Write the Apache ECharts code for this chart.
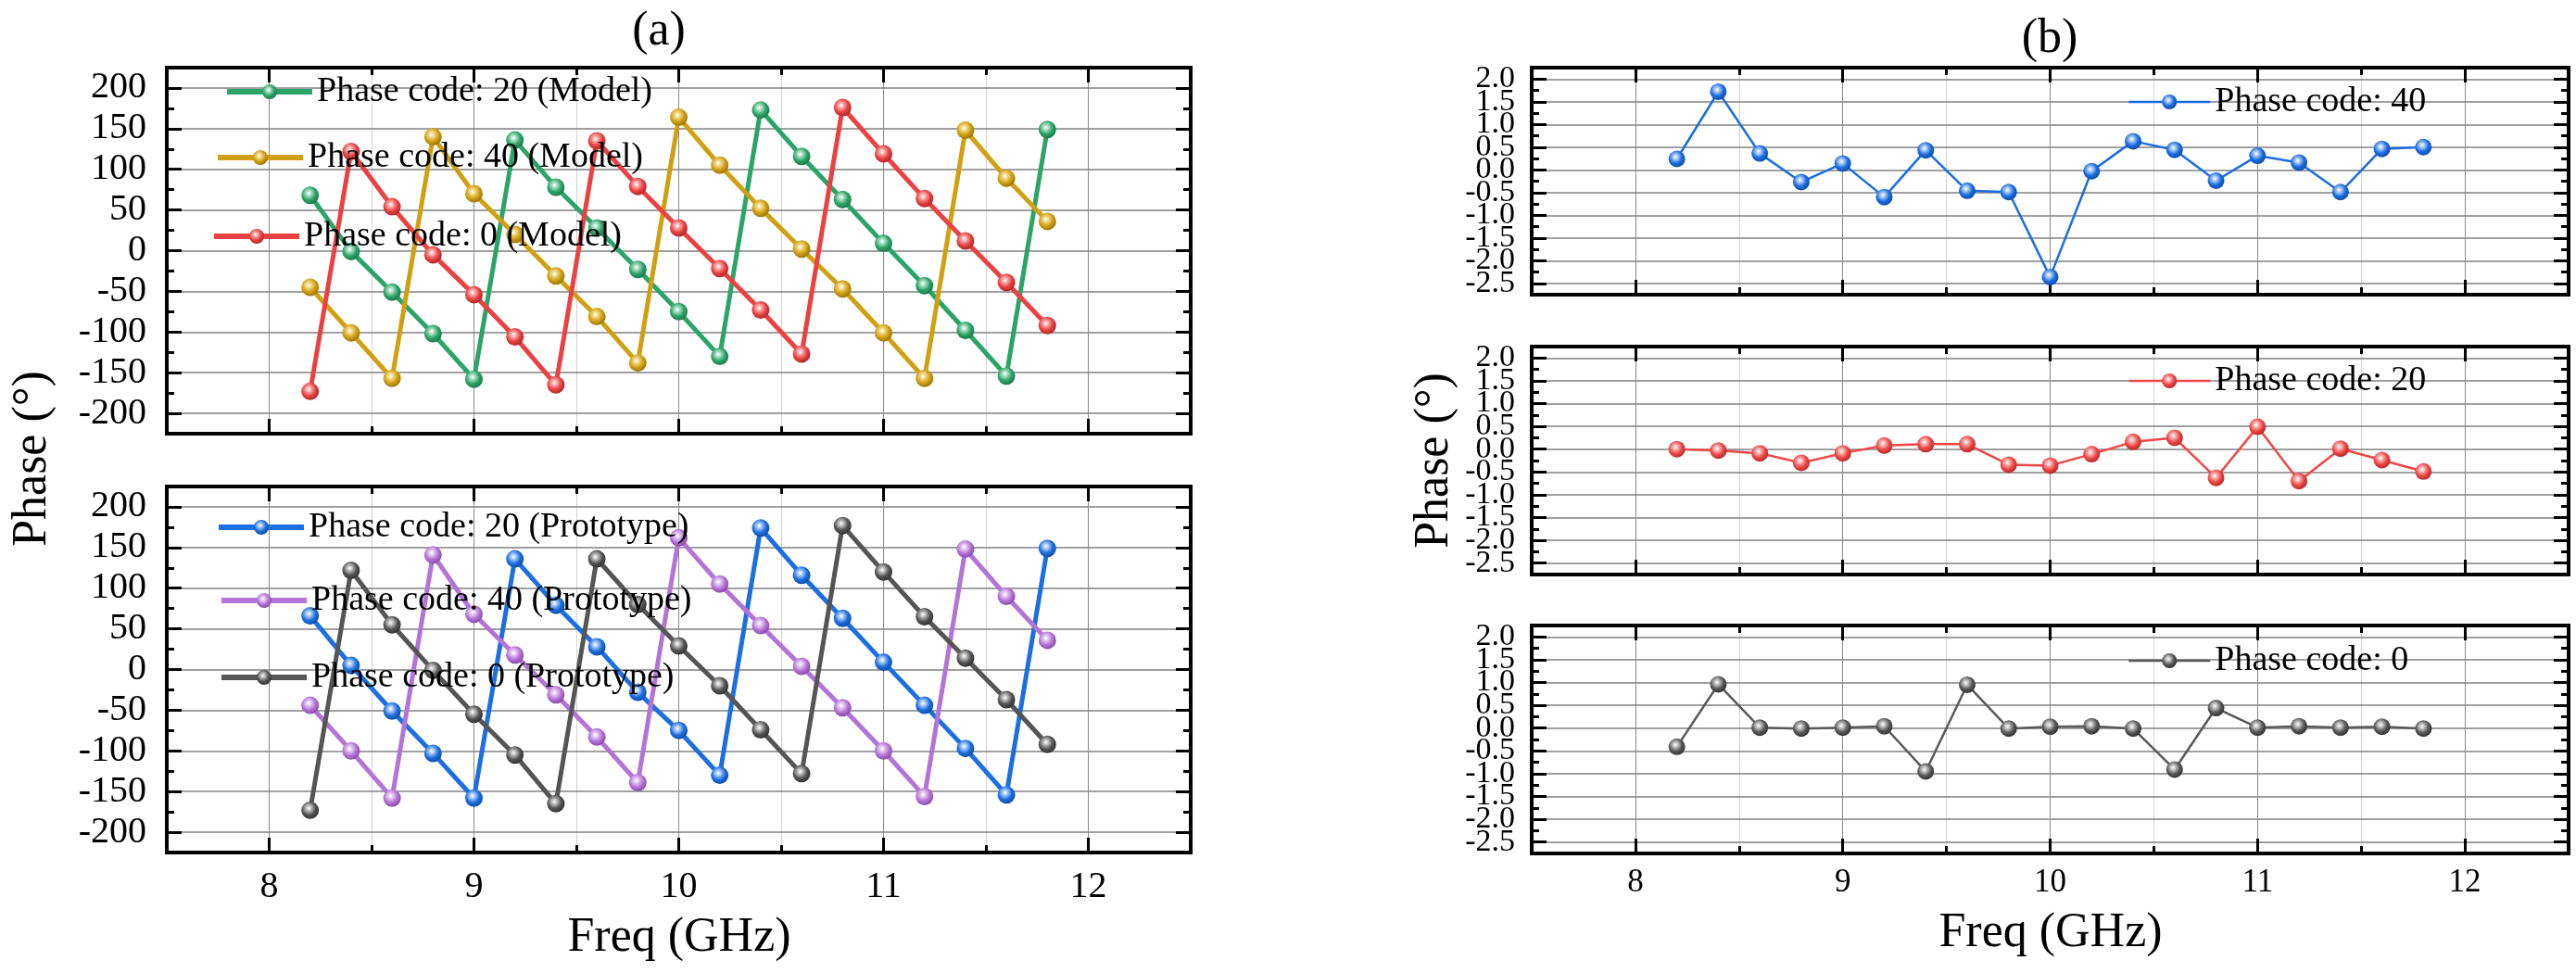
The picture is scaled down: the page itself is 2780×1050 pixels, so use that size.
<!DOCTYPE html>
<html><head><meta charset="utf-8">
<script src="https://cdn.jsdelivr.net/npm/echarts@6/dist/echarts.min.js"></script>
<style>html,body{margin:0;padding:0;background:#fff}#c{width:2780px;height:1050px}</style>
</head><body><div id="c"></div>
<script>
// ---- data ----
const freq = [8.2, 8.4, 8.6, 8.8, 9.0, 9.2, 9.4, 9.6, 9.8, 10.0, 10.2, 10.4, 10.6, 10.8, 11.0, 11.2, 11.4, 11.6, 11.8];
const model20 = [68, -1, -51, -102, -158, 136, 78, 28, -23, -75, -130, 173, 116, 63, 9, -43, -98, -154, 149];
const model40 = [-45, -101, -157, 140, 70, 20, -31, -81, -138, 164, 105, 52, 2, -47, -101, -157, 148, 89, 36];
const model0 = [-173, 122, 54, -5, -54, -106, -165, 135, 79, 28, -22, -73, -127, 176, 119, 64, 12, -39, -92];
const proto20 = [66, 5, -51, -103, -158, 136, 79, 28, -28, -75, -130, 174, 116, 63, 9, -44, -97, -154, 149];
const proto40 = [-44, -100, -158, 141, 68, 18, -31, -83, -139, 162, 105, 54, 4, -47, -100, -156, 148, 90, 36];
const proto0 = [-173, 122, 55, -1, -55, -105, -165, 136, 80, 29, -20, -74, -128, 177, 120, 65, 14, -37, -92];
const diff40 = [0.24, 1.72, 0.36, -0.27, 0.14, -0.60, 0.43, -0.46, -0.49, -2.36, -0.03, 0.63, 0.44, -0.24, 0.31, 0.16, -0.49, 0.46, 0.50];
const diff20 = [0.00, -0.03, -0.09, -0.30, -0.09, 0.08, 0.11, 0.11, -0.34, -0.36, -0.11, 0.16, 0.25, -0.63, 0.49, -0.70, 0.01, -0.24, -0.49];
const diff0 = [-0.41, 0.96, 0.01, -0.01, 0.01, 0.04, -0.95, 0.95, -0.01, 0.03, 0.04, -0.01, -0.91, 0.44, 0.01, 0.04, 0.01, 0.03, -0.01];

const xTicks = [8, 9, 10, 11, 12];
const yTicksA = [-200, -150, -100, -50, 0, 50, 100, 150, 200];
const yTicksB = [-2.5, -2.0, -1.5, -1.0, -0.5, 0, 0.5, 1.0, 1.5, 2.0];
// tick labels of panel (b), split into two alternating sets so that none is hidden
const yLabelsB1 = [-2.0, -1.0, 0, 1.0, 2.0];
const yLabelsB2 = [-2.5, -1.5, -0.5, 0.5, 1.5];

const FONT = '"Liberation Serif", "Times New Roman", serif';

function ball(c, light, dark) {
  return {type: 'radial', x: 0.42, y: 0.38, r: 0.62, colorStops: [
    {offset: 0, color: '#ffffff'}, {offset: 0.25, color: light},
    {offset: 0.62, color: c}, {offset: 1, color: dark}]};
}

const panels = [
  {rect: [180, 73, 1105, 395], yr: [-225, 225], yMinor: 25, yTicks: yTicksA, labA: yTicksA, labB: null, xLab: false, yLabSize: 40, xLabSize: 40, yMargin: 22, xMargin: 17, fmt: v => String(v)},
  {rect: [180, 525, 1105, 395], yr: [-225, 225], yMinor: 25, yTicks: yTicksA, labA: yTicksA, labB: null, xLab: true, yLabSize: 40, xLabSize: 40, yMargin: 22, xMargin: 17, fmt: v => String(v)},
  {rect: [1653, 73, 1119, 245], yr: [-2.75, 2.25], yMinor: 0.25, yTicks: yTicksB, labA: yLabelsB1, labB: yLabelsB2, xLab: false, yLabSize: 34, xLabSize: 35, yMargin: 18, xMargin: 14, fmt: v => v.toFixed(1)},
  {rect: [1653, 374, 1119, 246], yr: [-2.75, 2.25], yMinor: 0.25, yTicks: yTicksB, labA: yLabelsB1, labB: yLabelsB2, xLab: false, yLabSize: 34, xLabSize: 35, yMargin: 18, xMargin: 14, fmt: v => v.toFixed(1)},
  {rect: [1653, 675, 1119, 246], yr: [-2.75, 2.25], yMinor: 0.25, yTicks: yTicksB, labA: yLabelsB1, labB: yLabelsB2, xLab: true, yLabSize: 34, xLabSize: 35, yMargin: 18, xMargin: 14, fmt: v => v.toFixed(1)}
];

const grid = [], xAxis = [], yAxis = [];
const tickStyle = {color: '#000', width: 3};
const noLine = {show: false, onZero: false};
panels.forEach((p, i) => {
  const [l, t, w, h] = p.rect;
  grid.push({left: l, top: t, width: w, height: h, show: true, borderColor: '#000', borderWidth: 4, backgroundColor: 'transparent', z: 3, containLabel: false, outerBoundsMode: 'none'});
  grid.push({left: l, top: t, width: w, height: h, show: false, containLabel: false, outerBoundsMode: 'none'});
  const gm = 2 * i, gn = 2 * i + 1;
  const yLab = (vals) => ({show: true, customValues: vals, margin: p.yMargin, fontSize: p.yLabSize, fontFamily: FONT, color: '#000', formatter: p.fmt, showMinLabel: true, showMaxLabel: true, hideOverlap: false});
  xAxis.push({gridIndex: gm, type: 'value', min: 7.5, max: 12.5, position: 'bottom', z: 1,
    axisLine: noLine,
    axisTick: {show: true, inside: true, length: 16, customValues: xTicks, lineStyle: tickStyle},
    axisLabel: {show: p.xLab, customValues: xTicks, margin: p.xMargin, fontSize: p.xLabSize, fontFamily: FONT, color: '#000', showMinLabel: true, showMaxLabel: true},
    splitLine: {show: true, lineStyle: {color: '#8a8a8a', width: 1}}});
  xAxis.push({gridIndex: gm, type: 'value', min: 7.5, max: 12.5, position: 'top', z: 1,
    axisLine: noLine,
    axisTick: {show: true, inside: true, length: 16, customValues: xTicks, lineStyle: tickStyle},
    axisLabel: {show: false}, splitLine: {show: false}});
  xAxis.push({gridIndex: gn, type: 'value', min: 7.5, max: 12.5, interval: 0.5, position: 'bottom', z: 0,
    axisLine: noLine,
    axisTick: {show: true, inside: true, length: 8, lineStyle: tickStyle},
    axisLabel: {show: false},
    splitLine: {show: true, lineStyle: {color: '#d2d2d2', width: 1}}});
  xAxis.push({gridIndex: gn, type: 'value', min: 7.5, max: 12.5, interval: 0.5, position: 'top', z: 0,
    axisLine: noLine,
    axisTick: {show: true, inside: true, length: 8, lineStyle: tickStyle},
    axisLabel: {show: false}, splitLine: {show: false}});
  yAxis.push({gridIndex: gm, type: 'value', min: p.yr[0], max: p.yr[1], position: 'left', z: 1,
    axisLine: noLine,
    axisTick: {show: true, inside: true, length: 16, customValues: p.yTicks, lineStyle: tickStyle},
    axisLabel: yLab(p.labA),
    splitLine: {show: true, lineStyle: {color: '#808080', width: 1.5}}});
  yAxis.push({gridIndex: gm, type: 'value', min: p.yr[0], max: p.yr[1], position: 'right', z: 1,
    axisLine: noLine,
    axisTick: {show: true, inside: true, length: 16, customValues: p.yTicks, lineStyle: tickStyle},
    axisLabel: {show: false}, splitLine: {show: false}});
  yAxis.push({gridIndex: gn, type: 'value', min: p.yr[0], max: p.yr[1], interval: p.yMinor, position: 'left', z: 0,
    axisLine: noLine,
    axisTick: {show: true, inside: true, length: 8, lineStyle: tickStyle},
    axisLabel: p.labB ? yLab(p.labB) : {show: false}, splitLine: {show: false}});
  yAxis.push({gridIndex: gn, type: 'value', min: p.yr[0], max: p.yr[1], interval: p.yMinor, position: 'right', z: 0,
    axisLine: noLine,
    axisTick: {show: true, inside: true, length: 8, lineStyle: tickStyle},
    axisLabel: {show: false}, splitLine: {show: false}});
});

function mk(name, vals, panel, c, light, dark, lw, size) {
  return {name: name, type: 'line', xAxisIndex: 4 * panel, yAxisIndex: 4 * panel, z: 2,
    data: freq.map((f, k) => [f, vals[k]]),
    symbol: 'circle', symbolSize: size, showSymbol: true,
    lineStyle: {color: c, width: lw}, itemStyle: {color: ball(c, light, dark)},
    emphasis: {disabled: true}};
}

const series = [
  mk('Phase code: 20 (Model)', model20, 0, '#2ba468', '#a8dcc0', '#1d7a4b', 5, 19),
  mk('Phase code: 40 (Model)', model40, 0, '#d1a012', '#f0d88a', '#9c770a', 5, 19),
  mk('Phase code: 0 (Model)', model0, 0, '#ea4242', '#f7a8a8', '#b02828', 5, 19),
  mk('Phase code: 20 (Prototype)', proto20, 1, '#1c6fe0', '#a6c6f4', '#0f4ea8', 5, 19),
  mk('Phase code: 40 (Prototype)', proto40, 1, '#b473d6', '#e2c6f0', '#8a4cab', 5, 19),
  mk('Phase code: 0 (Prototype)', proto0, 1, '#555555', '#bbbbbb', '#333333', 5, 19),
  mk('Phase code: 40', diff40, 2, '#1a6de0', '#a6c6f4', '#0f4ea8', 2.5, 18),
  mk('Phase code: 20', diff20, 3, '#ef4646', '#f8b0b0', '#b82a2a', 2.5, 18),
  mk('Phase code: 0', diff0, 4, '#595959', '#c0c0c0', '#333333', 2.5, 18)
];

function lg(name, left, cy, w, lw) {
  return {data: [name], left: left, top: cy - 19, padding: 0, itemWidth: w, itemHeight: 20,
    selectedMode: false, lineStyle: {width: lw},
    textStyle: {fontSize: 38, fontFamily: FONT, color: '#000'}};
}
const legend = [
  lg('Phase code: 20 (Model)', 242, 99, 92, 6),
  lg('Phase code: 40 (Model)', 232, 170, 92, 6),
  lg('Phase code: 0 (Model)', 228, 255, 92, 6),
  lg('Phase code: 20 (Prototype)', 233, 569, 92, 6),
  lg('Phase code: 40 (Prototype)', 236, 648, 92, 6),
  lg('Phase code: 0 (Prototype)', 236, 731, 92, 6),
  lg('Phase code: 40', 2296, 110, 88, 2.5),
  lg('Phase code: 20', 2296, 411, 88, 2.5),
  lg('Phase code: 0', 2296, 713, 88, 2.5)
];

function txt(s, x, y, size, rot) {
  return {type: 'text', x: x, y: y, rotation: rot || 0, z: 10,
    style: {text: s, fontSize: size, fontFamily: FONT, fill: '#000', align: 'center', verticalAlign: 'middle', textAlign: 'center', textVerticalAlign: 'middle'}};
}
const graphic = [
  txt('(a)', 711, 34, 52),
  txt('(b)', 2212, 42, 52),
  txt('Phase (°)', 35, 495, 52, Math.PI / 2),
  txt('Phase (°)', 1548, 497, 52, Math.PI / 2),
  txt('Freq (GHz)', 733, 1012, 52),
  txt('Freq (GHz)', 2213, 1007, 52)
];

const chart = echarts.init(document.getElementById('c'), null, {renderer: 'canvas'});
chart.setOption({animation: false, backgroundColor: '#fff', grid, xAxis, yAxis, series, legend, graphic});
</script>
</body></html>
